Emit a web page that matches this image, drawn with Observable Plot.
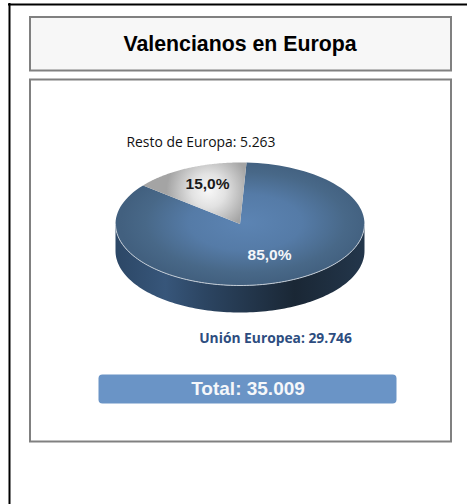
<!DOCTYPE html>
<html>
<head>
<meta charset="utf-8">
<style>html,body{margin:0;padding:0;background:#fff}svg{display:block}</style>
<script src="https://cdn.jsdelivr.net/npm/d3@7"></script>
<script src="https://cdn.jsdelivr.net/npm/@observablehq/plot@0.6"></script>
</head>
<body>
<script>
const titleText = "Valencianos en Europa";
const categories = ["Resto de Europa", "Unión Europea"];
const values = [5263, 29746];
const shareLabels = ["15,0%", "85,0%"];
const valueLabels = ["5.263", "29.746"];
const totalLabel = "Total: 35.009";

// Pie geometry
const cx = 239.5, cy = 223.5, rx = 124.5, ry = 61.5, depth = 27, startDeg = 3;
const total = d3.sum(values);
const sweep = values[0] / total * 360;
const pt = (deg, dy = 0) => {
  const t = deg * Math.PI / 180;
  return {x: cx + rx * Math.sin(t), y: cy - ry * Math.cos(t) + dy};
};
const arc = (a, b, dy = 0) => d3.range(0, 121).map(i => pt(a + (b - a) * i / 120, dy));
const greyFace = [{x: cx, y: cy}, ...arc(startDeg - sweep, startDeg)];
const blueFace = [{x: cx, y: cy}, ...arc(startDeg, startDeg - sweep + 360)];
const sideWall = [...arc(90, 270), ...arc(270, 90, depth)];
const rim = arc(90, 270);

function defs() {
  const d = d3.create("svg:defs");
  const grad = (tag, id, attrs, stops) => {
    const g = d.append(tag).attr("id", id).attr("gradientUnits", "userSpaceOnUse");
    Object.entries(attrs).forEach(([k, v]) => g.attr(k, v));
    stops.forEach(([o, c]) => g.append("stop").attr("offset", o).attr("stop-color", c));
  };
  grad("radialGradient", "faceBlue",
    {cx: 245, cy: 222, r: 125, gradientTransform: "translate(0 111) scale(1 0.5)"},
    [[0, "#5c84b3"], [0.45, "#557ba7"], [0.8, "#486888"], [1, "#42607f"]]);
  grad("radialGradient", "faceGrey",
    {cx: 208, cy: 190, r: 42},
    [[0, "#f8f8f8"], [0.4, "#e2e2e2"], [1, "#a4a4a4"]]);
  grad("linearGradient", "wall",
    {x1: 115, y1: 0, x2: 364, y2: 0},
    [[0, "#2c4766"], [0.2, "#37567a"], [0.36, "#2c4562"], [0.72, "#1a2735"], [1, "#23364b"]]);
  return d.node();
}

const sans = "Liberation Sans, Arial, sans-serif";
const humanist = "Open Sans, Noto Sans, sans-serif";

const chart = Plot.plot({
  width: 467, height: 504,
  margin: 0,
  x: {domain: [0, 467], range: [0, 467], axis: null},
  y: {domain: [0, 504], range: [0, 504], axis: null},
  style: {background: "#fff"},
  marks: [
    defs,
    // page frame
    Plot.ruleY([4], {x1: 8, x2: 467, stroke: "#000", strokeWidth: 2}),
    Plot.ruleX([9], {y1: 3, y2: 504, stroke: "#000", strokeWidth: 2}),
    // title and body boxes
    Plot.rect([0], {x1: 30, x2: 451, y1: 17, y2: 70.5, fill: "#f7f7f7", stroke: "#808080", strokeWidth: 2}),
    Plot.rect([0], {x1: 30, x2: 451, y1: 79.5, y2: 441.5, fill: "#fff", stroke: "#808080", strokeWidth: 2}),
    Plot.text([titleText], {x: 239.5, y: 43.5, text: d => d, fontFamily: sans, fontWeight: "bold", fontSize: 21.3, fill: "#000"}),
    // pie
    Plot.line(sideWall, {x: "x", y: "y", fill: "url(#wall)", stroke: "none"}),
    Plot.line(blueFace, {x: "x", y: "y", fill: "url(#faceBlue)", stroke: "none"}),
    Plot.line(greyFace, {x: "x", y: "y", fill: "url(#faceGrey)", stroke: "none"}),
    Plot.line(rim, {x: "x", y: "y", stroke: "#c3ccd6", strokeWidth: 1}),
    Plot.text([shareLabels[0]], {x: 207, y: 184, text: d => d, fontFamily: sans, fontWeight: "bold", fontSize: 15.5, fill: "#1a1a1a"}),
    Plot.text([shareLabels[1]], {x: 269, y: 255, text: d => d, fontFamily: sans, fontWeight: "bold", fontSize: 15.5, fill: "#f4f6f9"}),
    // category labels
    Plot.text([`${categories[0]}: ${valueLabels[0]}`], {x: 126, y: 142, text: d => d, textAnchor: "start", fontFamily: humanist, fontSize: 13.9, fill: "#111"}),
    Plot.text([`${categories[1]}: ${valueLabels[1]}`], {x: 275, y: 338.5, text: d => d, fontFamily: humanist, fontWeight: "bold", fontSize: 13.8, fill: "#2d4d80"}),
    // total bar
    Plot.rect([0], {x1: 98.5, x2: 396.5, y1: 374.5, y2: 403.5, r: 4, fill: "#6a94c6"}),
    Plot.text([totalLabel], {x: 247.5, y: 388, text: d => d, fontFamily: sans, fontWeight: "bold", fontSize: 19, fill: "#f5f7fa"})
  ]
});
document.body.append(chart);
</script>
</body>
</html>
